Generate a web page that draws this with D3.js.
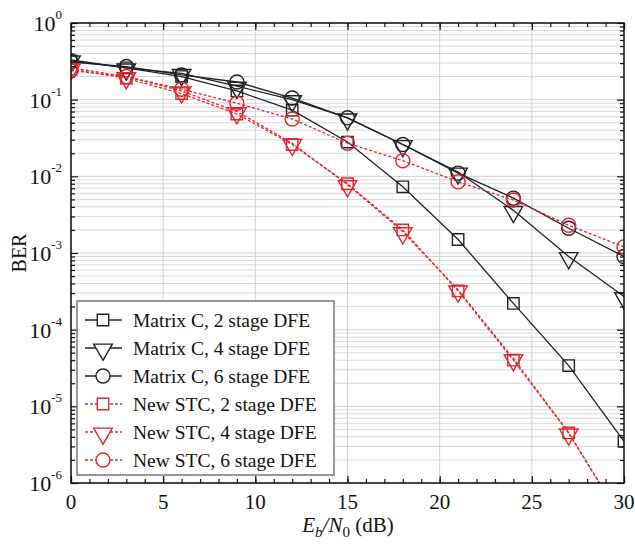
<!DOCTYPE html>
<html>
<head>
<meta charset="utf-8">
<script src="https://cdn.jsdelivr.net/npm/d3@7"></script>
<style>
  body { margin: 0; background: #fff; }
  svg text { font-family: "Liberation Serif", "Times New Roman", serif; }
</style>
</head>
<body>
<div id="chart"></div>
<script>
// Eb/N0 values (dB)
const snr = [0, 3, 6, 9, 12, 15, 18, 21, 24, 27, 30];

const matrix2 = [0.32, 0.26, 0.20, 0.13, 0.073, 0.028, 0.0073, 0.0015, 2.2e-4, 3.4e-5, 3.5e-6];
const matrix4 = [0.33, 0.26, 0.22, 0.15, 0.10, 0.058, 0.026, 0.0114, 0.0036, 9.0e-4, 2.7e-4];
const matrix6 = [0.31, 0.27, 0.21, 0.17, 0.105, 0.058, 0.026, 0.011, 0.0052, 0.0021, 9.0e-4];
const stc2 = [0.25, 0.19, 0.12, 0.065, 0.026, 0.008, 0.002, 3.2e-4, 4.0e-5, 4.5e-6, 3.0e-7];
const stc4 = [0.26, 0.20, 0.13, 0.07, 0.027, 0.0078, 0.0019, 3.3e-4, 4.2e-5, 4.5e-6, 3.0e-7];
const stc6 = [0.24, 0.20, 0.137, 0.09, 0.056, 0.027, 0.016, 0.0085, 0.0049, 0.0023, 0.0012];

const xTicks = [0, 5, 10, 15, 20, 25, 30];
const yExps = [0, -1, -2, -3, -4, -5, -6];

const series = [
  { name: "Matrix C, 2 stage DFE", values: matrix2, color: "#222", dash: null, marker: "square" },
  { name: "Matrix C, 4 stage DFE", values: matrix4, color: "#222", dash: null, marker: "triangle" },
  { name: "Matrix C, 6 stage DFE", values: matrix6, color: "#222", dash: null, marker: "circle" },
  { name: "New STC, 2 stage DFE", values: stc2, color: "#e0262b", dash: "3,2", marker: "square" },
  { name: "New STC, 4 stage DFE", values: stc4, color: "#e0262b", dash: "3,2", marker: "triangle" },
  { name: "New STC, 6 stage DFE", values: stc6, color: "#e0262b", dash: "3,2", marker: "circle" }
];

const margin = { left: 71, right: 11, top: 23, bottom: 63 };
const width = 635 - margin.left - margin.right;
const height = 546 - margin.top - margin.bottom;

const svg = d3.select("#chart").append("svg")
    .attr("width", 635)
    .attr("height", 546);

const g = svg.append("g")
    .attr("transform", `translate(${margin.left}, ${margin.top})`);

const x = d3.scaleLinear().domain([0, 30]).range([0, width]);
const y = d3.scaleLog().domain([1e-6, 1]).range([height, 0]);

// minor + major grid
const minorY = [];
yExps.slice(0, -1).forEach(e => {
  for (let k = 2; k <= 9; k++) minorY.push(k * Math.pow(10, e - 1));
});
g.append("g").selectAll("line").data(minorY).join("line")
    .attr("x1", 0).attr("x2", width)
    .attr("y1", d => y(d)).attr("y2", d => y(d))
    .attr("stroke", "#d9d9d9").attr("stroke-width", 1);
g.append("g").selectAll("line").data(yExps).join("line")
    .attr("x1", 0).attr("x2", width)
    .attr("y1", d => y(Math.pow(10, d))).attr("y2", d => y(Math.pow(10, d)))
    .attr("stroke", "#cfcfcf").attr("stroke-width", 1);
g.append("g").selectAll("line").data(xTicks).join("line")
    .attr("x1", d => x(d)).attr("x2", d => x(d))
    .attr("y1", 0).attr("y2", height)
    .attr("stroke", "#cfcfcf").attr("stroke-width", 1);

// axes with inward ticks on all sides
const minorX = d3.range(0, 31);
g.append("g").attr("transform", `translate(0, ${height})`)
    .call(d3.axisBottom(x).tickValues(xTicks).tickSize(-7).tickFormat(""));
g.append("g").attr("transform", `translate(0, ${height})`)
    .call(d3.axisBottom(x).tickValues(minorX).tickSize(-4).tickFormat(""));
g.append("g").call(d3.axisTop(x).tickValues(xTicks).tickSize(-7).tickFormat(""));
g.append("g").call(d3.axisTop(x).tickValues(minorX).tickSize(-4).tickFormat(""));
g.append("g").call(d3.axisLeft(y).tickValues(yExps.map(e => Math.pow(10, e))).tickSize(-7).tickFormat(""));
g.append("g").call(d3.axisLeft(y).tickValues(minorY).tickSize(-4).tickFormat(""));
g.append("g").attr("transform", `translate(${width}, 0)`)
    .call(d3.axisRight(y).tickValues(yExps.map(e => Math.pow(10, e))).tickSize(-7).tickFormat(""));
g.append("g").attr("transform", `translate(${width}, 0)`)
    .call(d3.axisRight(y).tickValues(minorY).tickSize(-4).tickFormat(""));
g.selectAll(".domain").remove();
g.selectAll(".tick line").attr("stroke", "#111").attr("stroke-width", 1.2);

// x tick labels
g.append("g").selectAll("text").data(xTicks).join("text")
    .attr("x", d => x(d)).attr("y", height + 26)
    .attr("text-anchor", "middle")
    .attr("font-size", 21).attr("fill", "#111")
    .text(d => d);

// y tick labels 10^n
const yl = g.append("g").selectAll("text").data(yExps).join("text")
    .attr("x", -9).attr("y", d => y(Math.pow(10, d)) + 8)
    .attr("text-anchor", "end")
    .attr("font-size", 22).attr("fill", "#111");
yl.append("tspan").text("10");
yl.append("tspan").attr("dy", -12).attr("font-size", 13).text(d => d);

// lines and markers
const line = d3.line()
    .x((d, i) => x(snr[i]))
    .y(d => y(d));

svg.append("clipPath").attr("id", "plotclip")
    .append("rect").attr("width", width).attr("height", height);

const plot = g.append("g").attr("clip-path", "url(#plotclip)");

const symbols = {
  square: d3.symbol().type(d3.symbolSquare).size(130),
  circle: d3.symbol().type(d3.symbolCircle).size(155),
  triangle: d3.symbol().type(d3.symbolTriangle).size(150)
};

series.forEach(s => {
  plot.append("path")
      .attr("d", line(s.values))
      .attr("fill", "none")
      .attr("stroke", s.color)
      .attr("stroke-width", 1.3)
      .attr("stroke-dasharray", s.dash);
  plot.append("g").selectAll("path").data(s.values).join("path")
      .attr("d", symbols[s.marker]())
      .attr("fill", "none")
      .attr("stroke", s.color)
      .attr("stroke-width", 1.4)
      .attr("transform", (d, i) => `translate(${x(snr[i])}, ${y(d)})` + (s.marker === "triangle" ? " rotate(180) translate(0, -1.5)" : ""));
});

// frame
g.append("rect")
    .attr("width", width).attr("height", height)
    .attr("fill", "none").attr("stroke", "#111").attr("stroke-width", 1.5);

// legend
const legend = g.append("g").attr("transform", "translate(6, 278)");
legend.append("rect")
    .attr("width", 257).attr("height", 174)
    .attr("fill", "#fff").attr("stroke", "#777").attr("stroke-width", 1.5);
const rows = legend.selectAll("g").data(series).join("g")
    .attr("transform", (d, i) => `translate(0, ${19 + i * 28})`);
rows.append("line")
    .attr("x1", 8).attr("x2", 45)
    .attr("stroke", d => d.color).attr("stroke-width", 1.3)
    .attr("stroke-dasharray", d => d.dash);
rows.append("path")
    .attr("d", d => symbols[d.marker]())
    .attr("fill", "#fff")
    .attr("stroke", d => d.color).attr("stroke-width", 1.4)
    .attr("transform", d => "translate(26, 0)" + (d.marker === "triangle" ? " rotate(180) translate(0, -1.5)" : ""));
rows.append("text")
    .attr("x", 56).attr("y", 7)
    .attr("font-size", 19.5).attr("fill", "#111")
    .text(d => d.name);

// axis titles
const xt = svg.append("text")
    .attr("x", 348).attr("y", 532)
    .attr("text-anchor", "middle")
    .attr("font-size", 21).attr("fill", "#111");
xt.append("tspan").attr("font-style", "italic").text("E");
xt.append("tspan").attr("font-style", "italic").attr("font-size", 15).attr("dy", 5).text("b");
xt.append("tspan").attr("font-style", "italic").attr("dy", -5).text("/N");
xt.append("tspan").attr("font-size", 15).attr("dy", 5).text("0");
xt.append("tspan").attr("dy", -5).text(" (dB)");

svg.append("text")
    .attr("transform", "translate(26, 253) rotate(-90)")
    .attr("text-anchor", "middle")
    .attr("font-size", 20).attr("fill", "#111")
    .text("BER");
</script>
</body>
</html>
